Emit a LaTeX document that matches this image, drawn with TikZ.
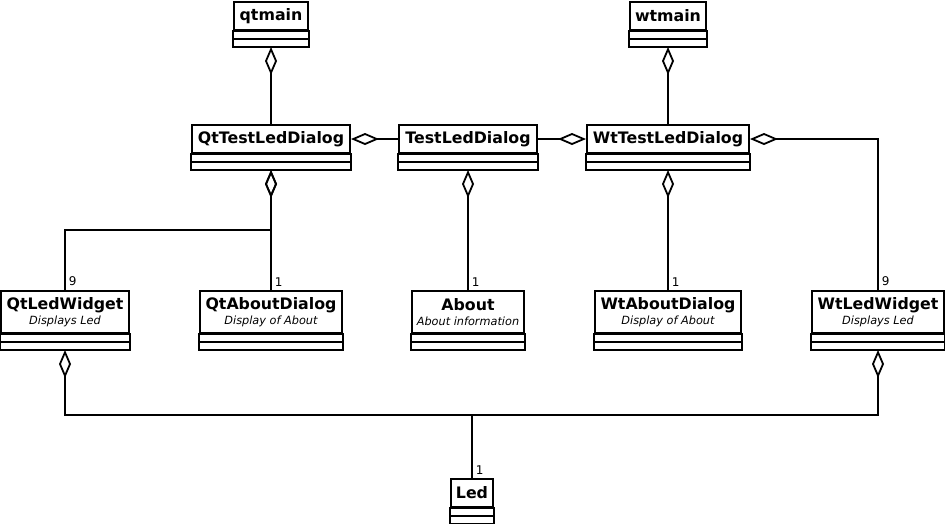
\documentclass[tikz,border=0pt]{standalone}
\usepackage{fontspec}
\setmainfont{DejaVu Sans}
\usetikzlibrary{arrows.meta}

\begin{document}
\begin{tikzpicture}
[x=1pt, y=-1pt,
 cls/.style={draw, line width=2pt, anchor=north, inner sep=0pt, align=center, font=\fontsize{15.8}{17}\selectfont\bfseries},
 agg/.style={{Diamond[open,length=28pt,width=12pt]}-, line width=1.8pt},
 mult/.style={anchor=south west, inner sep=3pt, font=\fontsize{12}{13}\selectfont}]
\useasboundingbox (0,0) rectangle (945,523);

\newcommand{\subline}[1]{\\[-2pt]{\fontsize{11.3}{13}\selectfont\mdseries\itshape #1}}

\node[cls, minimum width=74, minimum height=28] (qtmain) at (271,1) {qtmain};
\node[cls, minimum width=76, minimum height=28] (wtmain) at (668,1) {wtmain};

\node[cls, minimum width=158, minimum height=28] (qtdlg) at (271,124) {QtTestLedDialog};
\node[cls, minimum width=138, minimum height=28] (dlg) at (468,124) {TestLedDialog};
\node[cls, minimum width=162, minimum height=28] (wtdlg) at (668,124) {WtTestLedDialog};

\node[cls, minimum width=128, minimum height=42] (qtled) at (65,290) {QtLedWidget\subline{Displays Led}};
\node[cls, minimum width=142, minimum height=42] (qtabout) at (271,290) {QtAboutDialog\subline{Display of About}};
\node[cls, minimum width=112, minimum height=42] (about) at (468,290) {About\subline{About information}};
\node[cls, minimum width=146, minimum height=42] (wtabout) at (668,290) {WtAboutDialog\subline{Display of About}};
\node[cls, minimum width=132, minimum height=42] (wtled) at (878,290) {WtLedWidget\subline{Displays Led}};

\node[cls, minimum width=42, minimum height=28] (led) at (472,478) {Led};

% empty attribute and operation parts
\foreach \n in {qtmain,wtmain,qtdlg,dlg,wtdlg,qtled,qtabout,about,wtabout,wtled,led}{
  \draw[line width=2pt] (\n.south west) rectangle ([yshift=-16pt]\n.south east);
  \draw[line width=2pt] ([yshift=-8pt]\n.south west) -- ([yshift=-8pt]\n.south east);
  \coordinate (\n-b) at ([yshift=-16pt]\n.south);
}

\foreach \from/\to in {qtmain-b/qtdlg.north,wtmain-b/wtdlg.north,qtdlg.east/dlg.west,wtdlg.west/dlg.east}
	\draw[agg] (\from) -- (\to);

\draw[agg] (qtdlg-b) -- (qtabout.north) node[mult] (m-qtabout) {1};
\draw[agg] (dlg-b) -- (about.north) node[mult] (m-about) {1};
\draw[agg] (wtdlg-b) -- (wtabout.north) node[mult] (m-wtabout) {1};
\draw[agg] (qtdlg-b) -- ++(0,60) -| (qtled.north) node[mult] (m-qtled) {9};
\draw[agg] (wtdlg.east) -| (wtled.north) node[mult] (m-wtled) {9};
\draw[agg] (qtled-b) -- ++(0,65) -| (led.north) node[mult] (m-led) {1};
\draw[agg] (wtled-b) -- ++(0,65) -| (led.north);

\end{tikzpicture}
\end{document}
